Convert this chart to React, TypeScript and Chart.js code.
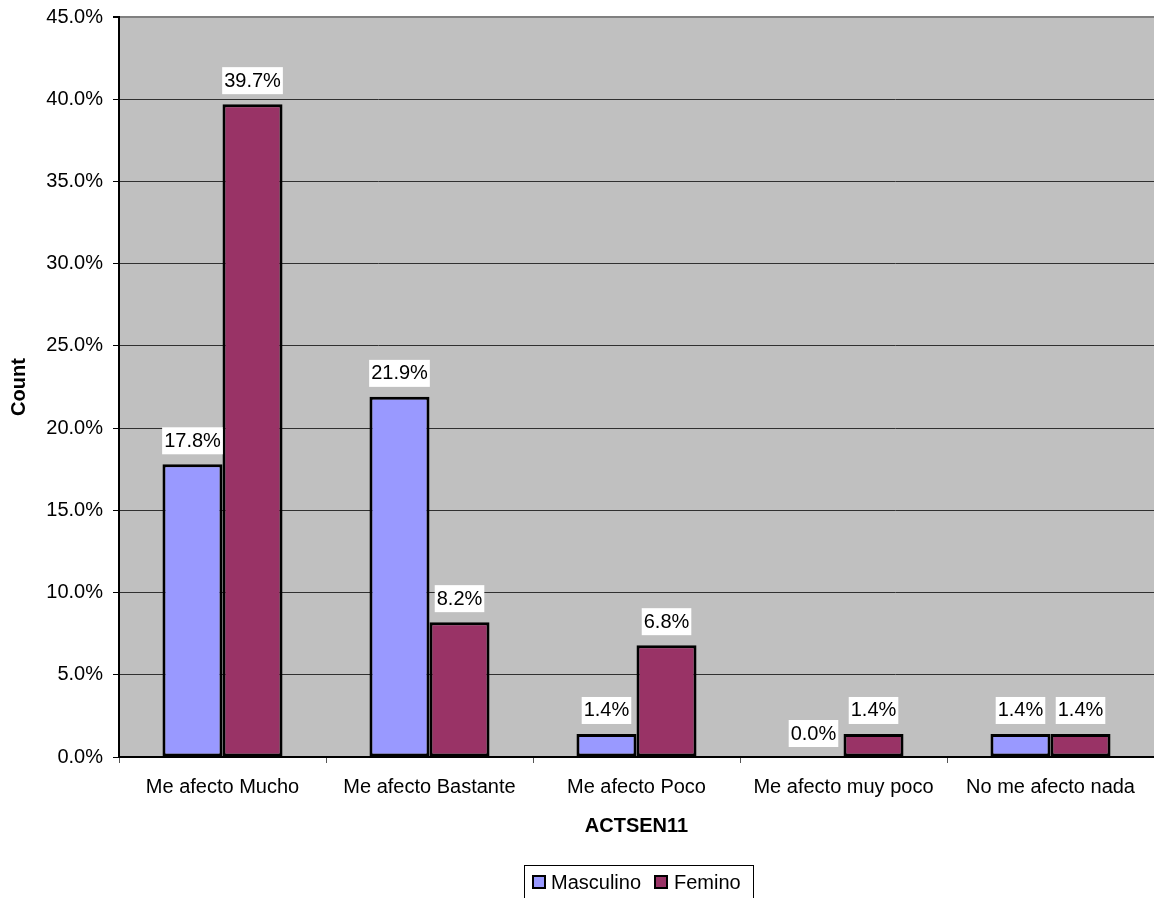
import React, { useEffect, useRef } from "react";
import { Chart, registerables } from "chart.js";

Chart.register(...registerables);

const categories = [
  "Me afecto Mucho",
  "Me afecto Bastante",
  "Me afecto Poco",
  "Me afecto muy poco",
  "No me afecto nada",
];
const masculino = [17.8, 21.9, 1.4, 0.0, 1.4];
const femino = [39.7, 8.2, 6.8, 1.4, 1.4];
const seriesNames = ["Masculino", "Femino"];
const seriesColors = ["#9999FF", "#993366"];
const xTitle = "ACTSEN11";
const yTitle = "Count";

const FONT = "'Liberation Sans', Arial, sans-serif";

const decorPlugin = {
  id: "decor",
  beforeDraw(chart: any) {
    const { ctx, chartArea } = chart;
    ctx.save();
    ctx.fillStyle = "#C0C0C0";
    ctx.fillRect(chartArea.left, chartArea.top, chartArea.right - chartArea.left, chartArea.bottom - chartArea.top);
    ctx.restore();
  },
  afterDatasetsDraw(chart: any) {
    const { ctx } = chart;
    ctx.save();
    ctx.font = `20px ${FONT}`;
    ctx.textAlign = "center";
    ctx.textBaseline = "middle";
    chart.data.datasets.forEach((ds: any, di: number) => {
      const meta = chart.getDatasetMeta(di);
      meta.data.forEach((el: any, i: number) => {
        const txt = Number(ds.data[i]).toFixed(1) + "%";
        const w = ctx.measureText(txt).width + 4;
        const cy = el.y - 24;
        ctx.fillStyle = "#FFFFFF";
        ctx.fillRect(el.x - w / 2, cy - 13, w, 27);
        ctx.fillStyle = "#000000";
        ctx.fillText(txt, el.x, cy + 1);
      });
    });
    ctx.restore();
  },
  afterDraw(chart: any) {
    const { ctx, chartArea } = chart;
    ctx.save();
    ctx.fillStyle = "#000";
    ctx.font = `bold 20px ${FONT}`;
    ctx.textAlign = "center";
    ctx.textBaseline = "middle";
    ctx.fillText(xTitle, (chartArea.left + chartArea.right) / 2, 826);
    ctx.save();
    ctx.translate(19, (chartArea.top + chartArea.bottom) / 2);
    ctx.rotate(-Math.PI / 2);
    ctx.fillText(yTitle, 0, 0);
    ctx.restore();

    // legend
    const lx = 524.5, ly = 865.5, lw = 229, lh = 40;
    ctx.fillStyle = "#FFFFFF";
    ctx.fillRect(lx, ly, lw, lh);
    ctx.strokeStyle = "#000";
    ctx.lineWidth = 1;
    ctx.strokeRect(lx, ly, lw, lh);
    ctx.font = `20px ${FONT}`;
    ctx.textAlign = "left";
    const items = [
      { x: 533, tx: 551 },
      { x: 655, tx: 674 },
    ];
    items.forEach((it, i) => {
      ctx.fillStyle = seriesColors[i];
      ctx.fillRect(it.x, 876, 12, 12);
      ctx.lineWidth = 2;
      ctx.strokeStyle = "#000";
      ctx.strokeRect(it.x, 876, 12, 12);
      ctx.fillStyle = "#000";
      ctx.fillText(seriesNames[i], it.tx, 883);
    });
    ctx.restore();
  },
};

export default function App() {
  const ref = useRef<HTMLCanvasElement>(null);
  useEffect(() => {
    if (!ref.current) return;
    const chart = new Chart(ref.current, {
      type: "bar",
      data: {
        labels: categories,
        datasets: [
          {
            label: seriesNames[0],
            data: masculino,
            backgroundColor: seriesColors[0],
            borderColor: "#000",
            borderWidth: 3,
            borderSkipped: false,
            categoryPercentage: 0.58,
            barPercentage: 1,
          },
          {
            label: seriesNames[1],
            data: femino,
            backgroundColor: seriesColors[1],
            borderColor: "#000",
            borderWidth: 3,
            borderSkipped: false,
            categoryPercentage: 0.58,
            barPercentage: 1,
          },
        ],
      },
      options: {
        responsive: false,
        animation: false,
        devicePixelRatio: 1,
        layout: { padding: { top: 17, right: 0, left: 0, bottom: 0 } },
        plugins: { legend: { display: false }, tooltip: { enabled: false } },
        scales: {
          x: {
            offset: true,
            grid: {
              offset: true,
              drawOnChartArea: false,
              drawTicks: true,
              tickLength: 6,
              color: "#555",
            },
            border: { display: true, color: "#000", width: 2 },
            ticks: {
              color: "#000",
              font: { size: 20, family: FONT },
              padding: 12,
              autoSkip: false,
              maxRotation: 0,
              minRotation: 0,
            },
            afterFit(scale: any) {
              scale.height = 141;
              scale.paddingLeft = 0;
              scale.paddingRight = 0;
            },
          },
          y: {
            min: 0,
            max: 45,
            ticks: {
              stepSize: 5,
              color: "#000",
              font: { size: 20, family: FONT },
              padding: 10,
              callback: (v: any) => Number(v).toFixed(1) + "%",
            },
            grid: {
              color: (c: any) => (c.tick && c.tick.value === 45 ? "#808080" : "#303030"),
              lineWidth: (c: any) => (c.tick && c.tick.value === 45 ? 2 : 1),
              tickLength: 6,
              tickColor: "#000",
            },
            border: { display: true, color: "#000", width: 2 },
            afterFit(scale: any) {
              scale.width = 119;
              scale.paddingTop = 0;
              scale.paddingBottom = 0;
            },
          },
        },
      },
      plugins: [decorPlugin],
    });
    return () => chart.destroy();
  }, []);
  return (
    <div style={{ position: "fixed", left: 0, top: 0, width: 1154, height: 898, background: "#fff" }}>
      <canvas ref={ref} width={1154} height={898} style={{ display: "block" }} />
    </div>
  );
}
